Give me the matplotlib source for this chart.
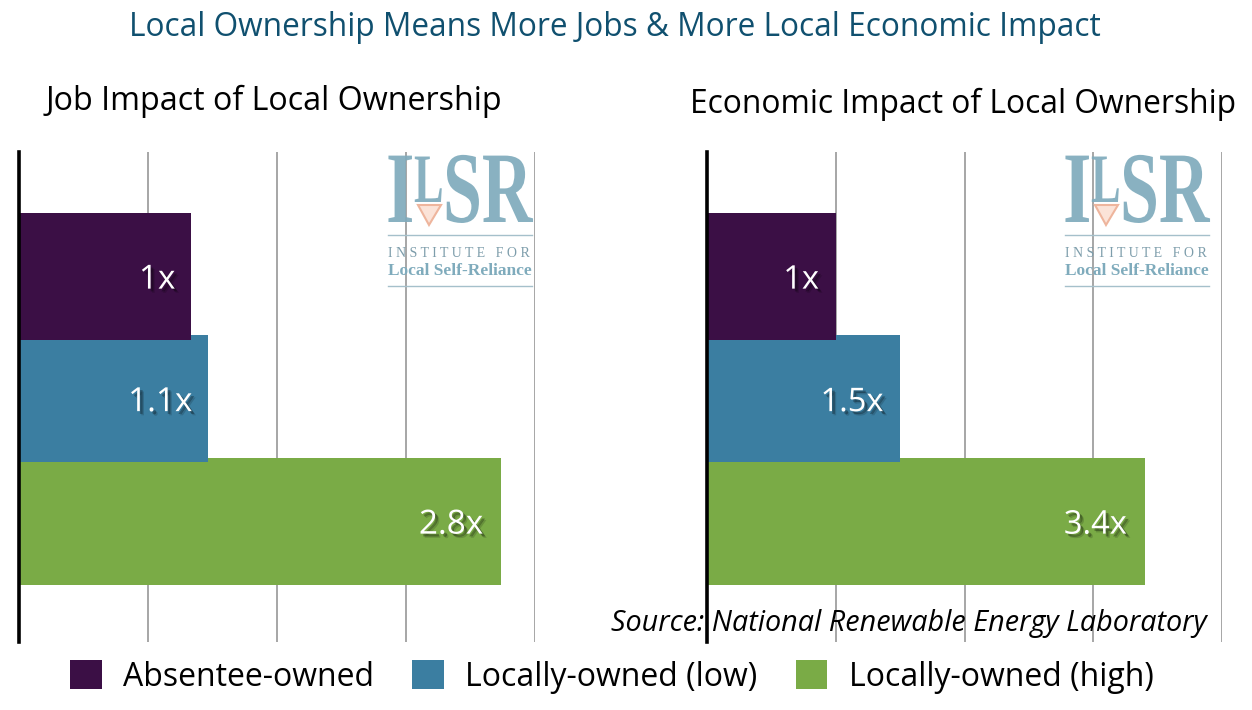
import matplotlib
matplotlib.use("Agg")
import matplotlib.pyplot as plt
import matplotlib.patheffects as pe
from matplotlib.patches import Polygon, Patch
from matplotlib.lines import Line2D
from matplotlib.transforms import Affine2D

W, H = 1252, 710

categories = ["Absentee-owned", "Locally-owned (low)", "Locally-owned (high)"]
colors = ["#3b0f45", "#3b7ea1", "#7aab46"]
job_values = [1.0, 1.1, 2.8]
job_labels = ["1x", "1.1x", "2.8x"]
econ_values = [1.0, 1.5, 3.4]
econ_labels = ["1x", "1.5x", "3.4x"]

plt.rcParams["font.family"] = ["Open Sans", "DejaVu Sans"]

fig = plt.figure(figsize=(W / 100, H / 100), dpi=100, facecolor="white")


class Squeeze(pe.AbstractPathEffect):
    # narrows glyphs, the logo letters are much more condensed than any installed serif
    def __init__(self, sx):
        super().__init__()
        self.sx = sx

    def draw_path(self, renderer, gc, tpath, affine, rgbFace=None):
        renderer.draw_path(gc, tpath, Affine2D().scale(self.sx, 1) + affine, rgbFace)


def fx(x):
    return x / W


def fy(y):
    return 1 - y / H


def panel(left, right, values, labels, xmax, step, label_ends, label_size):
    ax = fig.add_axes([fx(left), fy(642), (right - left) / W, 490 / H])
    ax.set_xlim(0, xmax)
    ax.set_ylim(2.984, -1.016)
    ticks = [step * i for i in range(1, 5)]
    for t in ticks:
        ax.axvline(t, color="#a6a6a6", lw=1.4, zorder=1)
    # first bar on top of the second, second on top of the third
    for i, v in enumerate(values):
        ax.barh(i, v, height=1.037, color=colors[i], zorder=5 - i)
    shadow = [pe.SimplePatchShadow(offset=(3, -3), shadow_rgbFace="black", alpha=0.15),
              pe.SimplePatchShadow(offset=(2, -2), shadow_rgbFace="black", alpha=0.3),
              pe.Normal()]
    for i, lab in enumerate(labels):
        ax.text(label_ends[i], i + 0.03, lab, color="white", fontsize=label_size, ha="right", va="center",
                zorder=10, path_effects=shadow)
    for s in ["top", "right", "bottom"]:
        ax.spines[s].set_visible(False)
    ax.spines["left"].set_linewidth(2.6)
    ax.spines["left"].set_zorder(12)
    ax.set_xticks([])
    ax.set_yticks([])
    ax.patch.set_alpha(0)
    return ax


def logo(x0):
    # x0 is the left edge of the logo in pixels
    blue = "#7fabbc"
    big = dict(family="Liberation Serif", fontweight="bold", color=blue, alpha=0.92, zorder=20,
               va="baseline", ha="left")
    fig.text(fx(x0 - 2), fy(222), "I", fontsize=73, path_effects=[Squeeze(0.72)], **big)
    fig.text(fx(x0 + 26), fy(202), "L", fontsize=50, path_effects=[Squeeze(0.64)], **big)
    fig.text(fx(x0 + 55), fy(222), "SR", fontsize=73, path_effects=[Squeeze(0.69)], **big)
    fig.add_artist(Polygon([(fx(x0 + 30), fy(205)), (fx(x0 + 53), fy(205)), (fx(x0 + 41), fy(225))],
                           closed=True, facecolor="#fbe3d8", edgecolor="#eeb59d", lw=1.5, transform=fig.transFigure))
    fig.text(fx(x0), fy(257), "I N S T I T U T E   F O R", fontsize=10, family="Liberation Serif",
             color="#7d9dab", ha="left")
    fig.text(fx(x0), fy(275), "Local Self-Reliance", fontsize=12.5, family="Liberation Serif", fontweight="bold",
             color=blue, ha="left")
    for y in [235, 286]:
        fig.add_artist(Line2D([fx(x0), fx(x0 + 144)], [fy(y), fy(y)], color="#a5c0cb", lw=1, transform=fig.transFigure))


panel(19, 535, job_values, job_labels, 3.0, 0.75, [0.91, 1.01, 2.7], 24)
panel(707, 1222, econ_values, econ_labels, 4.0, 1.0, [0.87, 1.37, 3.26], 23.5)
logo(388)
logo(1065)

fig.text(fx(615), fy(28), "Local Ownership Means More Jobs & More Local Economic Impact", color="#10506f",
         fontsize=22.75, ha="center", va="center")
fig.text(fx(274), fy(101), "Job Impact of Local Ownership", color="black", fontsize=23.2, ha="center", va="center")
fig.text(fx(963), fy(104), "Economic Impact of Local Ownership", color="black", fontsize=22.9, ha="center", va="center")
fig.text(fx(1207), fy(624), "Source: National Renewable Energy Laboratory", color="black", fontsize=20.7,
         style="italic", ha="right", va="center", zorder=30)

handles = [Patch(facecolor=c, edgecolor="none") for c in colors]
fig.legend(handles, categories, loc="center", bbox_to_anchor=(fx(611.5), fy(677)), ncol=3, frameon=False,
           fontsize=23, handlelength=1.0, handleheight=1.0, handletextpad=0.66, columnspacing=1.2)

fig.savefig("out.png", dpi=100)
